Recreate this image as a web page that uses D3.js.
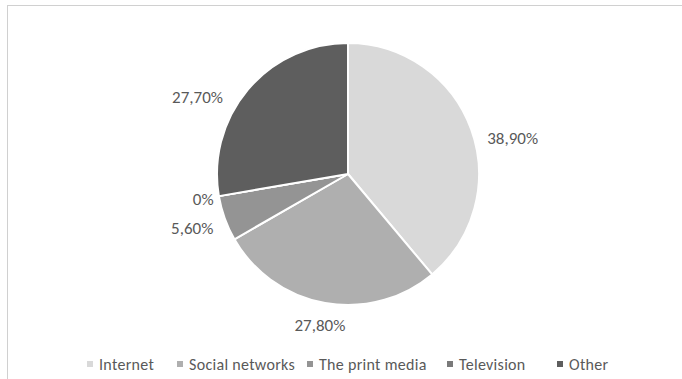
<!DOCTYPE html>
<html>
<head>
<meta charset="utf-8">
<script src="https://cdn.jsdelivr.net/npm/d3@7/dist/d3.min.js"></script>
<style>
  html, body { margin: 0; padding: 0; background: #fff; }
  svg { display: block; }
  text { font-family: Carlito, Lato, "Open Sans", sans-serif; fill: #595959; }
</style>
</head>
<body>
<svg id="chart" width="682" height="379"></svg>
<script>
// Share of information sources (percent)
const categories = ["Internet", "Social networks", "The print media", "Television", "Other"];
const values = [38.9, 27.8, 5.6, 0, 27.7];
const labels = ["38,90%", "27,80%", "5,60%", "0%", "27,70%"];
const colors = ["#d9d9d9", "#afafaf", "#949494", "#7a7a7a", "#5e5e5e"];

// hand-tuned label nudges away from the default outside-end spot [dx, dy]
const labelNudge = [[19, 17], [-1, -2], [-10, 2], [8, -1], [-32, 23]];
const legendStarts = [90, 180, 310, 450, 560];

const width = 682, height = 379;
const cx = 348, cy = 174, radius = 131;

const svg = d3.select("#chart");

// chart area frame (only top and left edges fall inside the view)
svg.append("rect")
  .attr("x", 7.5).attr("y", 5.5)
  .attr("width", width + 20).attr("height", height + 20)
  .attr("fill", "none").attr("stroke", "#d0d0d0").attr("stroke-width", 1);

const data = categories.map((c, i) => ({ name: c, value: values[i], label: labels[i], color: colors[i] }));

const pie = d3.pie().sort(null).value(d => d.value);
const arcs = pie(data);

const arc = d3.arc().innerRadius(0).outerRadius(radius);
const labelArc = d3.arc().innerRadius(radius + 24).outerRadius(radius + 24);

const g = svg.append("g").attr("transform", `translate(${cx},${cy})`);

g.selectAll("path.slice")
  .data(arcs)
  .join("path")
  .attr("class", "slice")
  .attr("d", arc)
  .attr("fill", d => d.data.color)
  .attr("stroke", "#fff")
  .attr("stroke-width", 2)
  .attr("stroke-linejoin", "round");

// outside-end data labels
g.selectAll("text.lbl")
  .data(arcs)
  .join("text")
  .attr("class", "lbl")
  .attr("font-size", 17)
  .attr("text-anchor", "middle")
  .attr("dy", "0.35em")
  .attr("x", (d, i) => labelArc.centroid(d)[0] + labelNudge[i][0])
  .attr("y", (d, i) => labelArc.centroid(d)[1] + labelNudge[i][1])
  .text(d => d.data.label);

// legend
const legendY = 364;
const legend = svg.append("g").attr("font-size", 16).attr("letter-spacing", 0.3);
const item = legend.selectAll("g")
  .data(data)
  .join("g")
  .attr("transform", (d, i) => `translate(${legendStarts[i]},${legendY})`);
item.append("rect")
  .attr("x", -3).attr("y", -3).attr("width", 6).attr("height", 6)
  .attr("fill", d => d.color);
item.append("text")
  .attr("x", 9).attr("y", 5.5)
  .text(d => d.name);
</script>
</body>
</html>
